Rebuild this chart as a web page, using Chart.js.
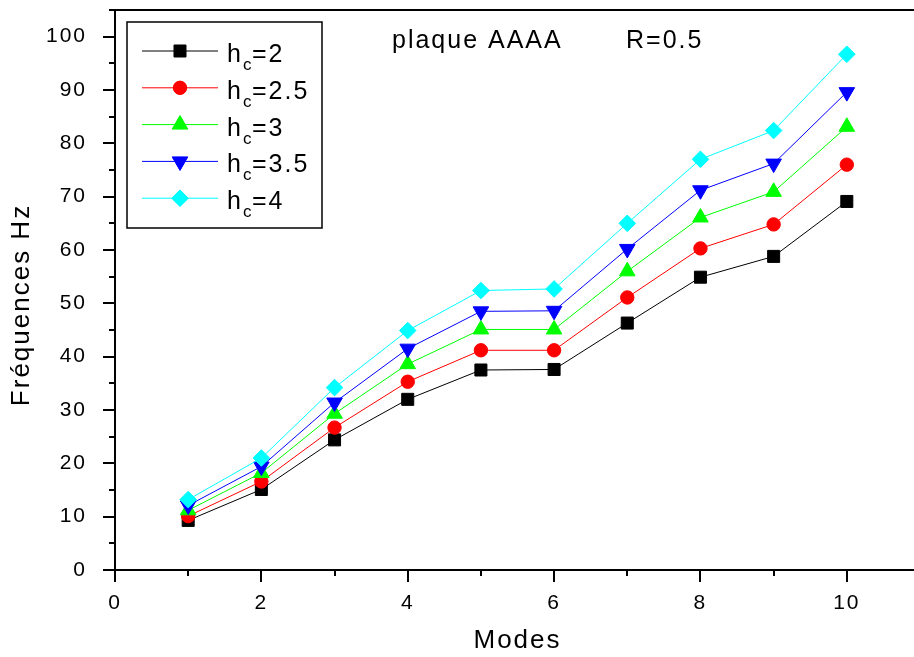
<!DOCTYPE html>
<html>
<head>
<meta charset="utf-8">
<script src="https://cdn.jsdelivr.net/npm/chart.js@4/dist/chart.umd.min.js"></script>
<style>
  html, body { margin: 0; padding: 0; background: #fff; overflow: hidden; }
  canvas { display: block; }
</style>
</head>
<body>
<canvas id="c" width="930" height="657"></canvas>
<script>
// Natural frequencies (Hz) of plate AAAA, R = 0.5, for several core heights h_c
const modes = [1, 2, 3, 4, 5, 6, 7, 8, 9, 10];
const hcValues = ['2', '2.5', '3', '3.5', '4'];
const freqHc2  = [9.3, 15.1, 24.4, 32.0, 37.5, 37.6, 46.3, 54.9, 58.8, 69.1];
const freqHc25 = [10.1, 16.6, 26.7, 35.3, 41.2, 41.2, 51.1, 60.3, 64.8, 76.0];
const freqHc3  = [11.2, 18.2, 29.3, 38.6, 45.1, 45.1, 56.0, 66.1, 70.9, 83.1];
const freqHc35 = [12.1, 19.4, 31.4, 41.5, 48.5, 48.6, 60.2, 71.2, 76.2, 89.6];
const freqHc4  = [13.2, 21.0, 34.2, 44.9, 52.4, 52.7, 65.0, 77.0, 82.4, 96.7];
const xTickLabels = [0, 2, 4, 6, 8, 10];
const yTickLabels = [0, 10, 20, 30, 40, 50, 60, 70, 80, 90, 100];

const seriesValues = [freqHc2, freqHc25, freqHc3, freqHc35, freqHc4];
const colors = ['#000000', '#ff0000', '#00ff00', '#0000ff', '#00ffff'];
const markers = [
  { style: 'rect', radius: 8.5, rotation: 0 },
  { style: 'circle', radius: 6.7, rotation: 0 },
  { style: 'triangle', radius: 9, rotation: 0 },
  { style: 'triangle', radius: 9, rotation: 180 },
  { style: 'rectRot', radius: 8.3, rotation: 0 }
];

const FONT = '"Liberation Sans", Arial, sans-serif';

const datasets = seriesValues.map((vals, i) => ({
  label: 'h_c=' + hcValues[i],
  data: modes.map((m, k) => ({ x: m, y: vals[k] })),
  borderColor: colors[i],
  backgroundColor: colors[i],
  borderWidth: 1,
  pointStyle: markers[i].style,
  pointRadius: markers[i].radius,
  pointRotation: markers[i].rotation,
  pointBorderWidth: 1,
  pointBorderColor: colors[i],
  pointBackgroundColor: colors[i],
  order: seriesValues.length - i,
  tension: 0
}));

// Wider glyph spacing for all canvas text
const spacingPlugin = {
  id: 'spacing',
  beforeInit(chart) { chart.ctx.letterSpacing = '2px'; },
  beforeDraw(chart) { chart.ctx.letterSpacing = '2px'; }
};

// Frame, major/minor tick marks, axis titles, annotation and legend box
const decorPlugin = {
  id: 'decor',
  afterDraw(chart) {
    const ctx = chart.ctx;
    const area = chart.chartArea;
    const xs = chart.scales.x;
    const ys = chart.scales.y;
    ctx.save();
    ctx.letterSpacing = '2px';
    ctx.strokeStyle = '#000';
    ctx.lineWidth = 2;
    ctx.lineCap = 'butt';

    // top frame line
    ctx.beginPath();
    ctx.moveTo(area.left - 1, area.top);
    ctx.lineTo(chart.width, area.top);
    ctx.stroke();

    // y ticks (major every 10, minor every 5), outward
    for (let v = ys.min; v <= ys.max; v += 5) {
      const py = Math.round(ys.getPixelForValue(v));
      const len = v % 10 === 0 ? 12 : 6;
      ctx.beginPath();
      ctx.moveTo(area.left - len, py);
      ctx.lineTo(area.left, py);
      ctx.stroke();
    }
    // x ticks (major every 2, minor every 1), outward
    for (let v = xs.min; v <= xs.max; v += 1) {
      const px = Math.round(xs.getPixelForValue(v));
      const len = v % 2 === 0 ? 12 : 6;
      ctx.beginPath();
      ctx.moveTo(px, area.bottom);
      ctx.lineTo(px, area.bottom + len);
      ctx.stroke();
    }

    // axis titles
    ctx.fillStyle = '#000';
    ctx.font = '26px ' + FONT;
    ctx.textAlign = 'center';
    ctx.textBaseline = 'middle';
    ctx.fillText('Modes', xs.getPixelForValue(5.5), 641);
    ctx.save();
    ctx.translate(22, 305);
    ctx.rotate(-Math.PI / 2);
    ctx.fillText('Fréquences Hz', 0, 0);
    ctx.restore();

    // annotation
    ctx.font = '25px ' + FONT;
    ctx.textAlign = 'left';
    ctx.textBaseline = 'alphabetic';
    ctx.fillText('plaque AAAA', 392, 48);
    ctx.fillText('R=0.5', 626, 48);

    // legend box
    const bx = 127, by = 22, bw = 195, bh = 206;
    ctx.lineWidth = 1.5;
    ctx.strokeRect(bx, by, bw, bh);
    const rowY0 = 51, rowGap = 36.8;
    chart.data.datasets.forEach((ds, i) => {
      const cy = rowY0 + i * rowGap;
      ctx.strokeStyle = ds.borderColor;
      ctx.lineWidth = 1;
      ctx.beginPath();
      ctx.moveTo(142, cy);
      ctx.lineTo(218, cy);
      ctx.stroke();
      ctx.fillStyle = ds.backgroundColor;
      Chart.helpers.drawPoint(ctx, {
        pointStyle: ds.pointStyle,
        radius: ds.pointRadius,
        rotation: ds.pointRotation,
        borderWidth: 1
      }, 180, cy);
      ctx.fill();
      ctx.fillStyle = '#000';
      ctx.font = '25px ' + FONT;
      ctx.fillText('h', 227, cy + 11);
      ctx.font = '17px ' + FONT;
      ctx.fillText('c', 243, cy + 19);
      ctx.font = '25px ' + FONT;
      ctx.fillText('=' + hcValues[i], 252, cy + 11);
    });
    ctx.restore();
  }
};

new Chart(document.getElementById('c'), {
  type: 'line',
  data: { datasets },
  options: {
    responsive: false,
    animation: false,
    events: [],
    layout: { padding: { top: 7, right: 9, left: 0, bottom: 0 } },
    plugins: { legend: { display: false }, tooltip: { enabled: false }, title: { display: false } },
    scales: {
      x: {
        type: 'linear',
        min: 0,
        max: 11,
        grid: { display: false },
        border: { display: true, color: '#000', width: 2 },
        ticks: {
          stepSize: 1,
          autoSkip: false,
          maxRotation: 0,
          padding: 13,
          color: '#000',
          font: { family: FONT, size: 21 },
          callback: v => (xTickLabels.includes(v) ? String(v) : '')
        },
        afterFit(scale) {
          scale.height = 87;
          scale.paddingLeft = 0;
          scale.paddingRight = 0;
        }
      },
      y: {
        type: 'linear',
        min: 0,
        max: 105,
        grid: { display: false },
        border: { display: true, color: '#000', width: 2 },
        ticks: {
          stepSize: 5,
          autoSkip: false,
          padding: 20,
          color: '#000',
          font: { family: FONT, size: 21 },
          callback: v => (yTickLabels.includes(v) ? String(v) : '')
        },
        afterFit(scale) {
          scale.width = 115;
          scale.paddingTop = 0;
          scale.paddingBottom = 0;
        }
      }
    }
  },
  plugins: [spacingPlugin, decorPlugin]
});
</script>
</body>
</html>
